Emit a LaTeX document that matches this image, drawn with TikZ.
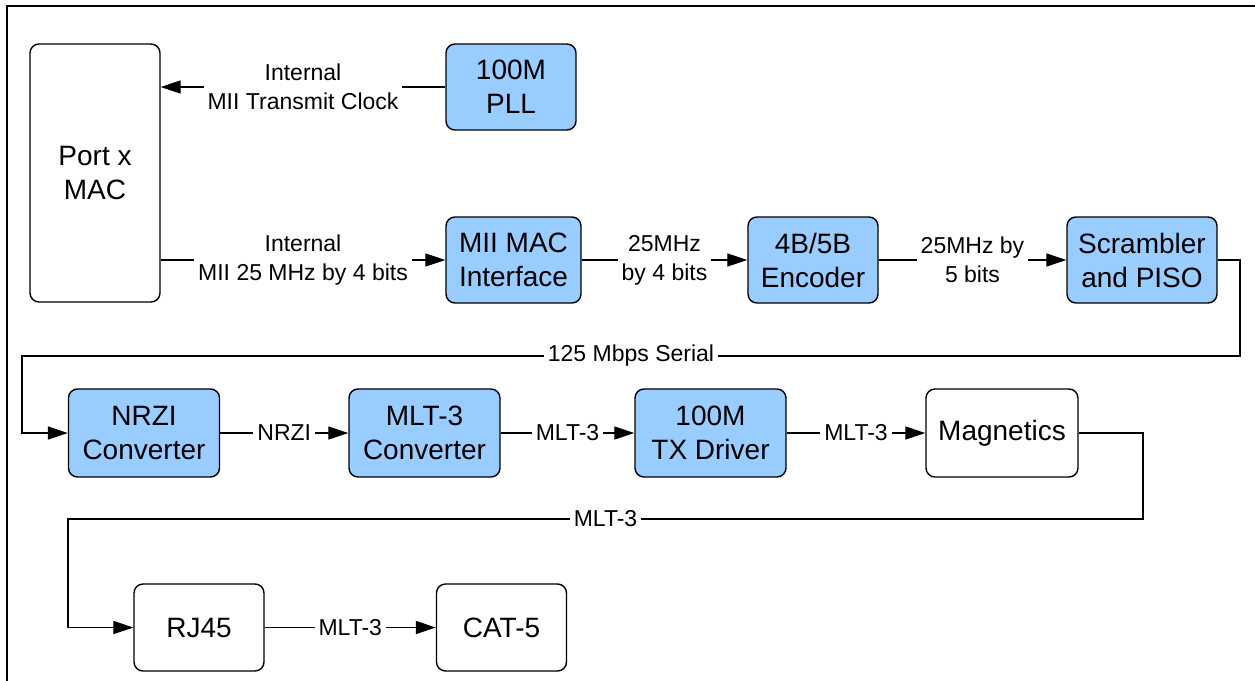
\documentclass[tikz,border=0pt]{standalone}
\usepackage{fontspec}
\setmainfont{Liberation Sans}
\usetikzlibrary{arrows.meta}
\definecolor{blockblue}{HTML}{99CCFF}

\begin{document}
\begin{tikzpicture}[x=0.5pt, y=-0.5pt,
    block/.style={draw, line width=0.7pt, rounded corners=4.5pt, fill=blockblue,
                  align=center, inner sep=0pt, font=\fontsize{14}{17}\selectfont,
                  minimum width=65pt, minimum height=43pt},
    plainblock/.style={block, fill=white},
    lbl/.style={fill=white, inner xsep=2pt, inner ysep=0.5pt, align=center,
                font=\fontsize{11.5}{14.5}\selectfont},
    conn/.style={line width=0.6pt, -{Triangle[length=10pt, width=6.5pt]}}]
    \useasboundingbox (0,0) rectangle (1255,681);
    \draw[line width=1.3pt] (7,681) -- (7,6) -- (1255,6);

    % MAC side
    \node[plainblock, minimum height=129pt] (mac) at (95,173) {Port x\\MAC};
    \node[block] (pll) at (511,87) {100M\\PLL};
    \node[block, minimum width=67.5pt] (miimac) at (513.5,260) {MII MAC\\Interface};
    \node[block] (encoder) at (813,260) {4B/5B\\Encoder};
    \node[block, minimum width=75pt] (scrambler) at (1142,260) {Scrambler\\and PISO};

    % Line side
    \node[block, minimum width=75.5pt, minimum height=44pt] (nrzi) at (144,433) {NRZI\\Converter};
    \node[block, minimum width=75.5pt, minimum height=44pt] (mlt) at (424.5,433) {MLT-3\\Converter};
    \node[block, minimum width=75.5pt, minimum height=44pt] (txdrv) at (710.5,433) {100M\\TX Driver};
    \node[plainblock, minimum width=76pt, minimum height=44pt] (magnetics) at (1002,433) {Magnetics};
    \node[plainblock, minimum height=43.5pt] (rj) at (199,627.5) {RJ45};
    \node[plainblock, minimum height=43.5pt] (cat) at (501.5,627.5) {CAT-5};

    % Connectors
    \draw[conn] (pll.west) -- node[lbl] {Internal\\MII Transmit Clock} (pll.west -| mac.east);
    \draw[conn] (miimac.west -| mac.east) -- node[lbl] {Internal\\MII 25 MHz by 4 bits} (miimac.west);
    \draw[conn] (miimac) -- node[lbl] {25MHz\\by 4 bits} (encoder);
    \draw[conn] (encoder) -- node[lbl] {25MHz by\\5 bits} (scrambler);
    \draw[conn] (scrambler.east) -- (1240,260) -- (1240,356)
        -- node[lbl] {125 Mbps Serial} (22,356) -- (22,433) -- (nrzi.west);
    \draw[conn] (nrzi) -- node[lbl] {NRZI} (mlt);
    \draw[conn] (mlt) -- node[lbl] {MLT-3} (txdrv);
    \draw[conn] (txdrv) -- node[lbl] {MLT-3} (magnetics);
    \draw[conn] (magnetics.east) -- (1143,433) -- (1143,519)
        -- node[lbl] {MLT-3} (68,519) -- (68,627.5) -- (rj.west);
    \draw[conn] (rj) -- node[lbl] {MLT-3} (cat);
\end{tikzpicture}
\end{document}
